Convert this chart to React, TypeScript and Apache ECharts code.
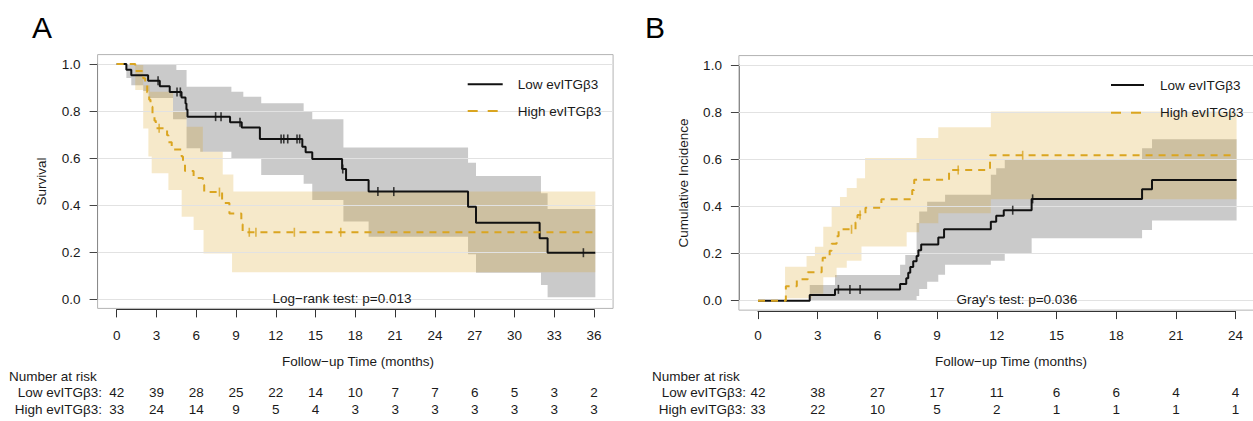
import React, { useEffect, useRef } from "react";
import * as echarts from "echarts";

type P = [number, number];
type Band = [number, number, number];

// ---------- Panel A: survival (Kaplan-Meier) ----------
const lowA: P[] = [[0, 1], [0.73, 0.976], [1.1, 0.952], [2.37, 0.929], [3.25, 0.905], [4.0, 0.881], [4.89, 0.857], [5.19, 0.832], [5.26, 0.806], [5.34, 0.776], [8.55, 0.752], [9.43, 0.73], [10.8, 0.681], [14.0, 0.648], [14.25, 0.625], [14.75, 0.596], [17.0, 0.553], [17.3, 0.506], [19.0, 0.457], [26.5, 0.393], [27.1, 0.325], [31.9, 0.258], [32.5, 0.197], [36.1, 0.197]];
const lowACensor: P[] = [[3.12, 0.929], [4.55, 0.881], [4.8, 0.881], [7.46, 0.776], [7.87, 0.776], [9.3, 0.752], [12.4, 0.681], [12.6, 0.681], [12.9, 0.681], [13.6, 0.681], [13.8, 0.681], [17.05, 0.553], [19.7, 0.457], [20.9, 0.457], [35.2, 0.197]];
const highA: P[] = [[0, 1], [1.4, 0.97], [2.0, 0.939], [2.15, 0.909], [2.3, 0.879], [2.45, 0.848], [2.55, 0.818], [2.7, 0.788], [2.85, 0.758], [2.95, 0.727], [3.8, 0.697], [3.9, 0.667], [4.15, 0.636], [4.9, 0.606], [5.0, 0.576], [5.15, 0.545], [5.8, 0.515], [6.5, 0.485], [6.6, 0.455], [7.95, 0.409], [8.5, 0.364], [9.4, 0.318], [9.5, 0.284], [36.1, 0.284]];
const highACensor: P[] = [[3.2, 0.727], [7.75, 0.455], [10.0, 0.284], [10.5, 0.284], [13.4, 0.284], [16.9, 0.284]];
// confidence bands: [start time, lower, upper]
const lowABand: Band[] = [[0, 1, 1], [0.73, 0.94, 1], [1.1, 0.91, 1], [2.0, 0.885, 1], [2.4, 0.855, 1], [4.25, 0.765, 1], [4.5, 0.765, 0.975], [5.27, 0.641, 0.903], [6.3, 0.627, 0.903], [8.65, 0.599, 0.882], [9.55, 0.599, 0.861], [10.9, 0.528, 0.833], [14.1, 0.49, 0.797], [14.75, 0.421, 0.765], [17.1, 0.33, 0.645], [19.0, 0.265, 0.645], [26.5, 0.19, 0.58], [27.1, 0.112, 0.523], [32.0, 0.06, 0.45], [32.5, 0.007, 0.383]];
const highABand: Band[] = [[0, 1, 1], [1.4, 0.889, 1], [2.0, 0.726, 0.91], [2.39, 0.606, 0.91], [2.5, 0.606, 0.882], [2.64, 0.535, 0.882], [3.9, 0.464, 0.882], [4.25, 0.464, 0.797], [4.9, 0.35, 0.797], [5.27, 0.35, 0.733], [5.8, 0.294, 0.733], [6.5, 0.294, 0.627], [6.55, 0.194, 0.627], [8.0, 0.194, 0.53], [8.7, 0.114, 0.53], [8.8, 0.114, 0.457]];
const endA = 36.1;
const riskLowA = [42, 39, 28, 25, 22, 14, 10, 7, 7, 6, 5, 3, 2];
const riskHighA = [33, 24, 14, 9, 5, 4, 3, 3, 3, 3, 3, 3, 3];

// ---------- Panel B: cumulative incidence ----------
const lowB: P[] = [[0, 0], [2.6, 0.024], [3.87, 0.048], [7.14, 0.071], [7.45, 0.095], [7.55, 0.119], [7.65, 0.143], [7.8, 0.167], [7.97, 0.19], [8.06, 0.214], [8.2, 0.238], [9.06, 0.268], [9.35, 0.303], [11.7, 0.335], [11.97, 0.36], [12.35, 0.384], [13.75, 0.432], [19.3, 0.473], [19.8, 0.512], [24.05, 0.512]];
const lowBCensor: P[] = [[4.04, 0.048], [4.62, 0.048], [5.13, 0.048], [12.8, 0.384], [13.8, 0.432]];
const highB: P[] = [[0, 0], [1.4, 0.061], [1.95, 0.091], [2.5, 0.121], [3.2, 0.152], [3.25, 0.182], [3.6, 0.212], [3.7, 0.242], [3.95, 0.273], [4.05, 0.303], [4.9, 0.333], [5.0, 0.364], [5.4, 0.394], [6.2, 0.43], [7.75, 0.47], [7.85, 0.513], [9.6, 0.555], [11.66, 0.617], [24.05, 0.617]];
const highBCensor: P[] = [[4.7, 0.303], [5.13, 0.364], [10.06, 0.555], [13.3, 0.617]];
const lowBBand: Band[] = [[0, 0, 0], [2.6, 0, 0.067], [3.87, 0, 0.109], [7.14, 0, 0.152], [7.4, 0, 0.194], [7.97, 0.02, 0.33], [8.1, 0.05, 0.378], [8.5, 0.08, 0.42], [9.06, 0.11, 0.42], [9.4, 0.152, 0.449], [11.7, 0.17, 0.534], [11.97, 0.17, 0.562], [12.4, 0.2, 0.597], [13.75, 0.265, 0.597], [19.3, 0.3, 0.647], [19.8, 0.34, 0.685]];
const highBBand: Band[] = [[0, 0, 0], [1.36, 0.01, 0.144], [2.44, 0.01, 0.19], [2.7, 0.03, 0.19], [2.86, 0.03, 0.229], [3.28, 0.1, 0.314], [3.7, 0.1, 0.4], [3.95, 0.14, 0.4], [4.12, 0.14, 0.44], [4.46, 0.17, 0.478], [4.96, 0.17, 0.52], [5.2, 0.23, 0.52], [5.38, 0.23, 0.605], [7.47, 0.29, 0.605], [7.97, 0.29, 0.69], [8.1, 0.329, 0.69], [9.06, 0.371, 0.736], [11.7, 0.43, 0.803]];
const endB = 24.05;
const riskLowB = [42, 38, 27, 17, 11, 6, 6, 4, 4];
const riskHighB = [33, 22, 10, 5, 2, 1, 1, 1, 1];

const gridValues = [0, 0.2, 0.4, 0.6, 0.8, 1.0];
const LOW = "Low evITGβ3";
const HIGH = "High evITGβ3";

const FONT = '"Liberation Sans", Arial, Helvetica, sans-serif';
const GOLD = "#DAA520";
const INK = "#111111";
const TXT = "#1a1a1a";
const GRAY_BAND = "rgba(128,128,128,0.42)";
const GOLD_BAND = "rgba(218,165,32,0.24)";
const PAD = 0.04;
const FS = 13.5;

const dataA = { left: 116.7, top: 64, width: 477.3, height: 235 };
const dataB = { left: 758, top: 65, width: 477.6, height: 235.7 };

function boxOf(g: typeof dataA) {
  const dx = g.width * PAD;
  const dy = g.height * PAD;
  return { left: g.left - dx, top: g.top - dy, width: g.width + 2 * dx, height: g.height + 2 * dy };
}

function bandSeries(rows: Band[], tEnd: number, color: string, xi: number, yi: number, z: number) {
  return {
    type: "custom",
    xAxisIndex: xi,
    yAxisIndex: yi,
    silent: true,
    z,
    data: rows,
    encode: { x: 0, y: [1, 2] },
    renderItem: (params: any, api: any) => {
      if (params.dataIndex !== 0) return { type: "group", children: [] };
      const upper: number[][] = [];
      const lower: number[][] = [];
      for (let i = 0; i < rows.length; i++) {
        const t0 = rows[i][0];
        const t1 = i + 1 < rows.length ? rows[i + 1][0] : tEnd;
        upper.push(api.coord([t0, rows[i][2]]), api.coord([t1, rows[i][2]]));
        lower.push(api.coord([t0, rows[i][1]]), api.coord([t1, rows[i][1]]));
      }
      return {
        type: "polygon",
        shape: { points: upper.concat(lower.reverse()) },
        style: { fill: color },
      };
    },
  };
}

function stepLine(name: string, data: P[], xi: number, yi: number, color: string, dashed: boolean, z: number) {
  return {
    type: "line",
    name,
    xAxisIndex: xi,
    yAxisIndex: yi,
    data,
    step: "end",
    symbol: "none",
    silent: true,
    z,
    lineStyle: { color, width: 2, type: dashed ? [7, 6] : "solid" },
    itemStyle: { color },
  };
}

function censorMarks(data: P[], xi: number, yi: number, color: string, z: number) {
  return {
    type: "scatter",
    xAxisIndex: xi,
    yAxisIndex: yi,
    data,
    symbol: "rect",
    symbolSize: [1.6, 9],
    silent: true,
    z,
    itemStyle: { color },
  };
}

function gridLineSeries(xi: number, yi: number) {
  return {
    type: "line",
    xAxisIndex: xi,
    yAxisIndex: yi,
    data: [],
    silent: true,
    z: 1,
    markLine: {
      silent: true,
      symbol: ["none", "none"],
      label: { show: false },
      lineStyle: { color: "#e2e2e2", width: 1, type: "solid" },
      emphasis: { disabled: true },
      data: gridValues.map((v) => ({ yAxis: v })),
    },
  };
}

function hiddenX(gridIndex: number, xMax: number) {
  return { type: "value", gridIndex, min: -PAD * xMax, max: xMax * (1 + PAD), show: false };
}
function hiddenY(gridIndex: number) {
  return { type: "value", gridIndex, min: -PAD, max: 1 + PAD, show: false };
}

function tickAxis(gridIndex: number, xMax: number, margin: number) {
  return {
    type: "value",
    gridIndex,
    min: 0,
    max: xMax,
    interval: 3,
    position: "bottom",
    offset: 10.4,
    axisLine: { show: true, onZero: false, lineStyle: { color: "#333", width: 1 } },
    axisTick: { show: true, length: 8, lineStyle: { color: "#333" } },
    axisLabel: { margin, verticalAlign: "middle", fontSize: FS, color: TXT, fontFamily: FONT, showMinLabel: true, showMaxLabel: true },
    splitLine: { show: false },
  };
}

function riskAxis(gridIndex: number, xMax: number, offset: number, counts: number[], label: string, gap: number) {
  return {
    type: "value",
    gridIndex,
    min: 0,
    max: xMax,
    interval: 3,
    position: "bottom",
    offset,
    axisLine: { show: false, onZero: false },
    axisTick: { show: false },
    splitLine: { show: false },
    axisLabel: {
      margin: 0,
      verticalAlign: "middle",
      fontSize: FS,
      color: TXT,
      fontFamily: FONT,
      showMinLabel: true,
      showMaxLabel: true,
      formatter: (v: number) => {
        const c = counts[Math.round(v / 3)];
        return c === undefined ? "" : String(c);
      },
    },
    name: label,
    nameLocation: "start",
    nameGap: gap,
    nameMoveOverlap: false,
    nameTextStyle: { fontSize: FS, color: TXT, fontFamily: FONT, align: "right", verticalAlign: "middle" },
  };
}

function valueYAxis(gridIndex: number) {
  return {
    type: "value",
    gridIndex,
    min: 0,
    max: 1,
    interval: 0.2,
    position: "left",
    offset: 19.1,
    axisLine: { show: true, onZero: false, lineStyle: { color: "#8a8a8a", width: 1 } },
    axisTick: { show: true, length: 8, lineStyle: { color: "#444" } },
    axisLabel: { margin: 17, fontSize: FS, color: TXT, fontFamily: FONT, formatter: (v: number) => v.toFixed(1) },
    splitLine: { show: false },
  };
}

function text(t: string, x: number, y: number, opts: any = {}) {
  const align = opts.align || "center";
  return {
    type: "text",
    x,
    y,
    rotation: opts.rotation || 0,
    silent: true,
    z: 20,
    style: {
      text: t,
      fontSize: opts.fontSize || FS,
      fontFamily: FONT,
      fill: opts.fill || TXT,
      align,
      verticalAlign: "middle",
      textAlign: align,
      textVerticalAlign: "middle",
    },
  };
}

const noSymbol = { color: "rgba(0,0,0,0)", borderColor: "rgba(0,0,0,0)", borderWidth: 0 };

function legendFor(left: number, top: number, iconW: number, textPad: number, gap: number) {
  return {
    left,
    top,
    z: 20,
    orient: "vertical",
    padding: 0,
    itemWidth: iconW,
    itemHeight: 14,
    itemGap: gap,
    selectedMode: false,
    inactiveColor: TXT,
    itemStyle: noSymbol,
    data: [
      { name: LOW, itemStyle: noSymbol, lineStyle: { color: INK, width: 2, type: "solid" }, textStyle: { color: TXT } },
      { name: HIGH, itemStyle: noSymbol, lineStyle: { color: GOLD, width: 2, type: [10, 10] }, textStyle: { color: TXT } },
    ],
    textStyle: { fontSize: FS, color: TXT, fontFamily: FONT, padding: [0, 0, 0, textPad] },
  };
}

export default function App() {
  const ref = useRef<HTMLDivElement>(null);
  useEffect(() => {
    if (!ref.current) return;
    const chart = echarts.init(ref.current, null, { renderer: "svg" });
    const boxA = boxOf(dataA);
    const boxB = boxOf(dataB);
    const gridStyle = { show: true, borderColor: "#b3b3b3", borderWidth: 1, backgroundColor: "transparent", containLabel: false, outerBoundsMode: "none" };
    const plain = { show: false, containLabel: false, outerBoundsMode: "none" };
    const option: any = {
      animation: false,
      textStyle: { fontFamily: FONT },
      grid: [
        { ...gridStyle, ...boxA },
        { ...plain, ...dataA },
        { ...gridStyle, ...boxB },
        { ...plain, ...dataB },
      ],
      xAxis: [
        hiddenX(0, 36),
        tickAxis(1, 36, 26),
        riskAxis(1, 36, 93.5, riskLowA, LOW + ":", 14.7),
        riskAxis(1, 36, 110, riskHighA, HIGH + ":", 14.7),
        hiddenX(2, 24),
        tickAxis(3, 24, 24.5),
        riskAxis(3, 24, 91.8, riskLowB, LOW + ":", 12),
        riskAxis(3, 24, 108.3, riskHighB, HIGH + ":", 12),
      ],
      yAxis: [hiddenY(0), valueYAxis(1), hiddenY(2), valueYAxis(3)],
      legend: [legendFor(466.7, 77.3, 35, 10, 12.7), legendFor(1110, 78, 33, 11, 13.7)],
      series: [
        gridLineSeries(0, 0),
        bandSeries(lowABand, endA, GRAY_BAND, 0, 0, 2),
        bandSeries(highABand, endA, GOLD_BAND, 0, 0, 3),
        stepLine(LOW, lowA, 0, 0, INK, false, 5),
        censorMarks(lowACensor, 0, 0, INK, 5),
        stepLine(HIGH, highA, 0, 0, GOLD, true, 6),
        censorMarks(highACensor, 0, 0, GOLD, 6),
        gridLineSeries(4, 2),
        bandSeries(lowBBand, endB, GRAY_BAND, 4, 2, 2),
        bandSeries(highBBand, endB, GOLD_BAND, 4, 2, 3),
        stepLine(LOW, lowB, 4, 2, INK, false, 5),
        censorMarks(lowBCensor, 4, 2, INK, 5),
        stepLine(HIGH, highB, 4, 2, GOLD, true, 6),
        censorMarks(highBCensor, 4, 2, GOLD, 6),
      ],
      graphic: {
        elements: [
          text("A", 42, 27, { fontSize: 30, fill: "#000" }),
          text("B", 655, 27, { fontSize: 30, fill: "#000" }),
          text("Survival", 41, 181.5, { rotation: Math.PI / 2 }),
          text("Cumulative Incidence", 683, 183, { rotation: Math.PI / 2 }),
          text("Log−rank test: p=0.013", 342, 298),
          text("Gray's test: p=0.036", 1017, 299),
          text("Follow−up Time (months)", 358, 361),
          text("Follow−up Time (months)", 1011, 361),
          text("Number at risk", 9, 376, { align: "left" }),
          text("Number at risk", 652, 376, { align: "left" }),
        ],
      },
    };
    chart.setOption(option);
    return () => chart.dispose();
  }, []);
  return <div ref={ref} style={{ position: "absolute", left: 0, top: 0, width: 1253, height: 421 }} />;
}
